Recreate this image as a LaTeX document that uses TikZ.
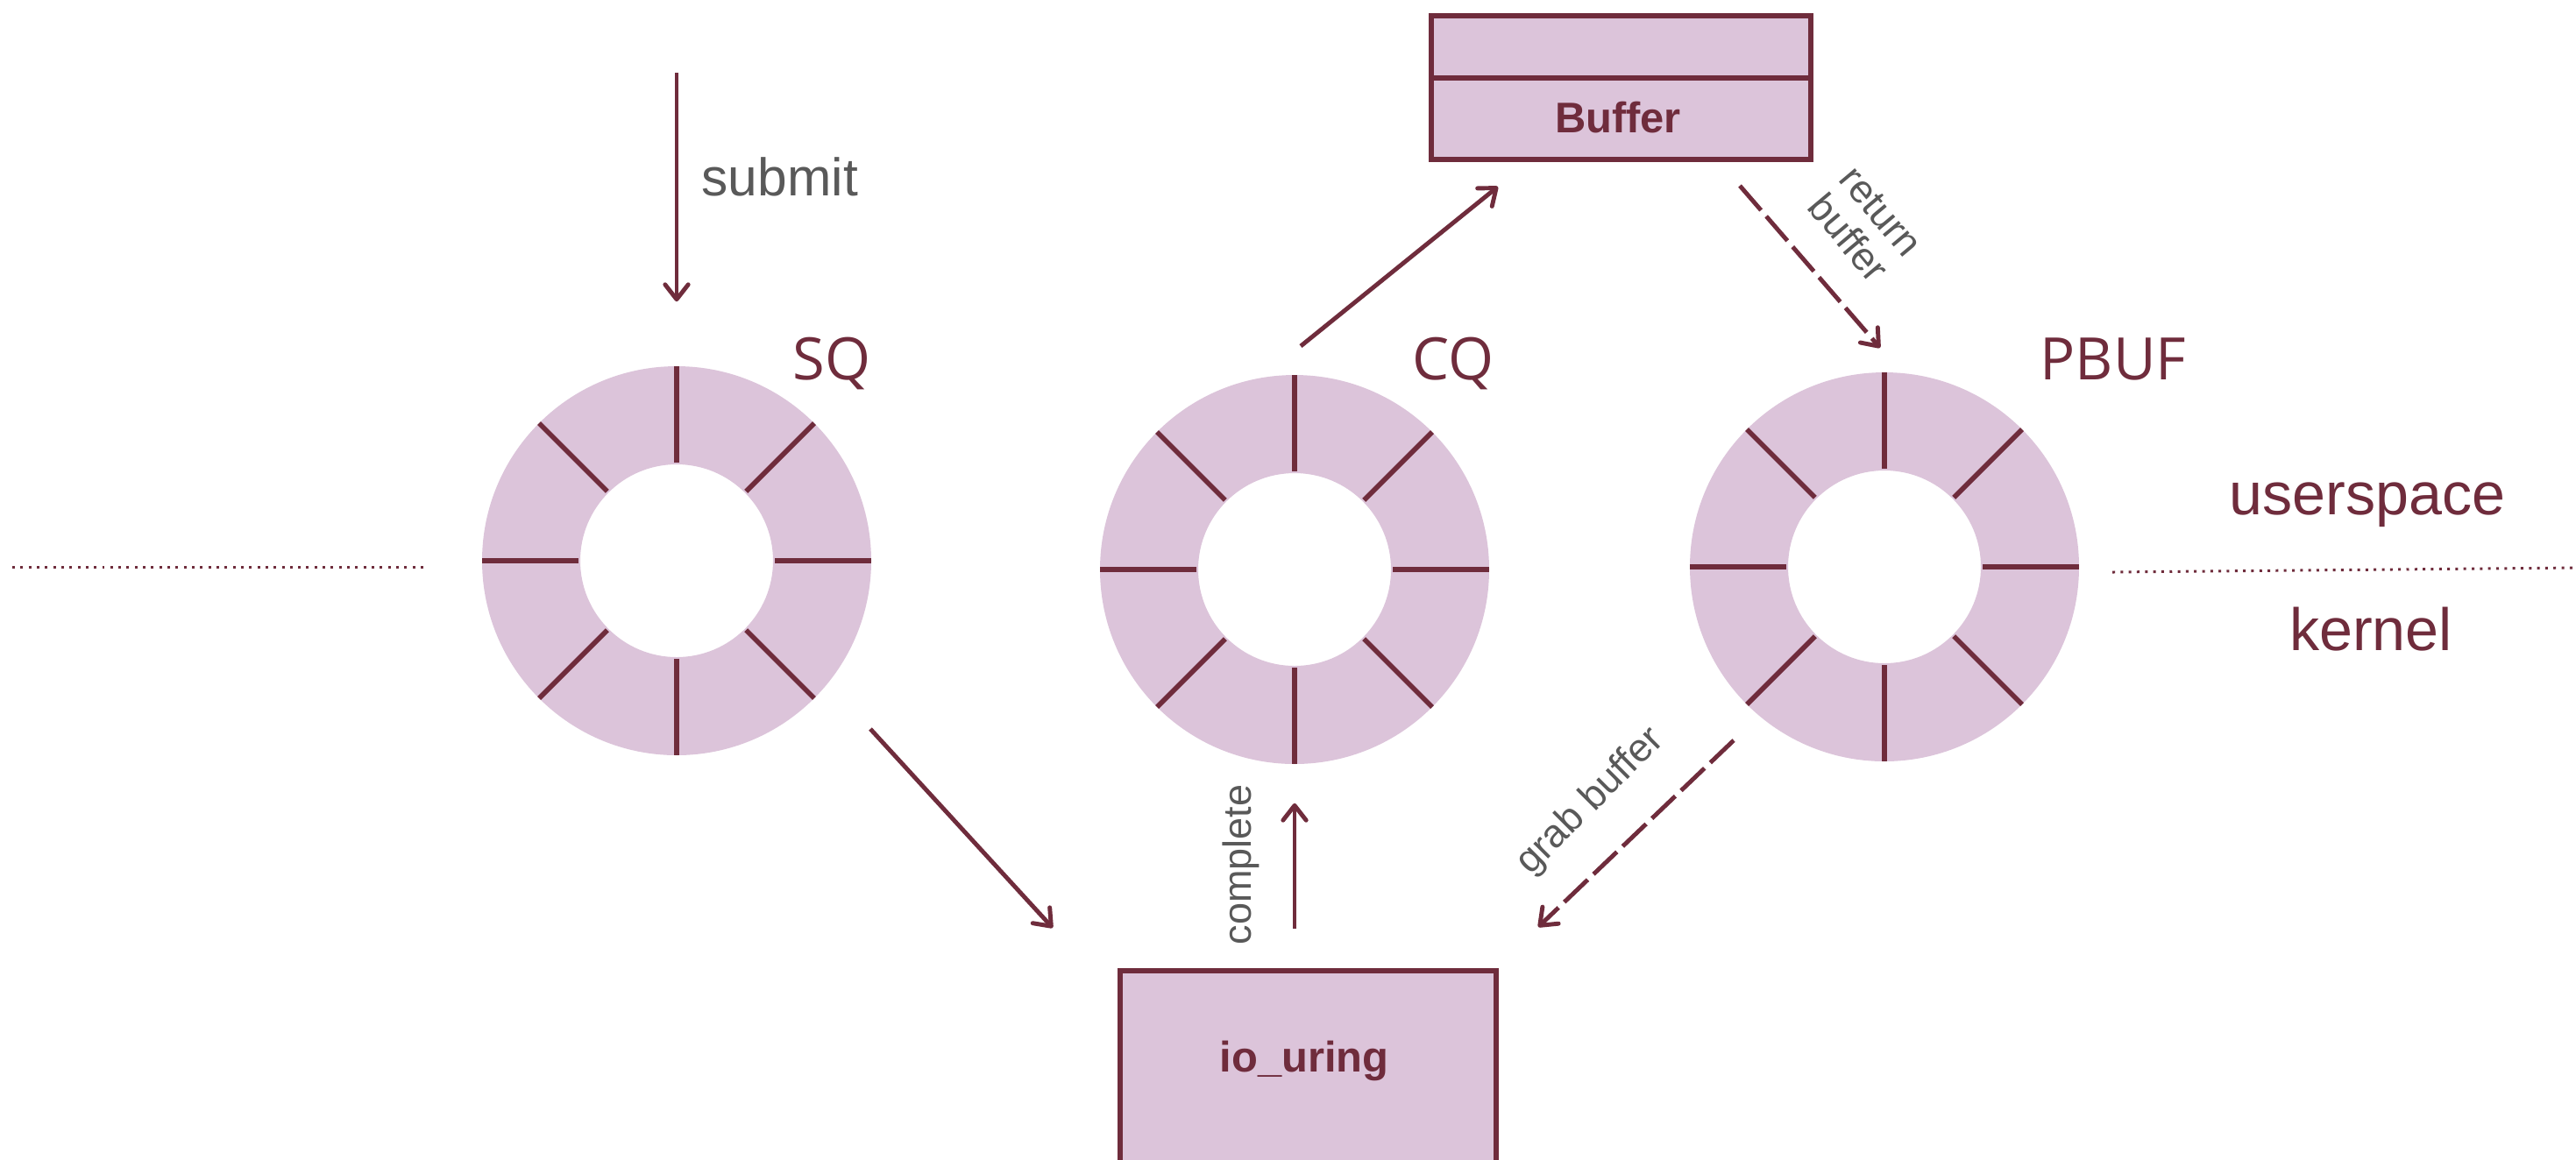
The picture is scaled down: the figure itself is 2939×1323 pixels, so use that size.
\documentclass[tikz,border=0pt]{standalone}
\usepackage{fontspec}
\setmainfont{Liberation Sans}
\newfontfamily\qfont{Open Sans}
\usetikzlibrary{arrows.meta}

\definecolor{maroon}{HTML}{6F2C3C}
\definecolor{mauve}{HTML}{DCC4DA}
\definecolor{labelgray}{HTML}{595959}

% ring buffer: filled annulus with eight slot separators and a named outline node
\newcommand\drawring[3]{%
  \fill[mauve, even odd rule] (#2,#3) circle[radius=222] (#2,#3) circle[radius=110];
  \foreach \a in {0,45,...,315}
    \draw[spoke] (#2,#3) ++(\a:112) -- ++(\a:110);
  \node[circle, minimum size=4.44cm, inner sep=0pt] (#1) at (#2,#3) {};
}

\begin{document}
\begin{tikzpicture}[x=0.01cm, y=-0.01cm,
  arr/.style={draw=maroon, line width=1.4pt, line join=round,
    -{Straight Barb[length=4.8pt,width=7.5pt,round]}},
  dasharr/.style={arr, dash pattern=on 10.5pt off 2.6pt},
  spoke/.style={draw=maroon, line width=1.6pt},
  box/.style={draw=maroon, fill=mauve, line width=1.6pt, rectangle, inner sep=0pt, anchor=north west},
  boxtext/.style={text=maroon, font=\bfseries\fontsize{13.9}{16}\selectfont},
  qlabel/.style={text=maroon, font=\qfont\fontsize{19}{22}\selectfont, anchor=base},
  flow/.style={text=labelgray, font=\fontsize{12.8}{13.6}\selectfont, inner sep=0pt},
  side/.style={text=maroon, font=\fontsize{19.4}{23}\selectfont, anchor=base},
  divider/.style={draw=maroon, line width=0.85pt, dash pattern=on 0.85pt off 1.8pt},
]
\useasboundingbox (0,0) rectangle (2939,1323);

% the three rings
\drawring{sqring}{772}{640}
\drawring{cqring}{1477}{650}
\drawring{pbring}{2150}{647}

\node[qlabel] (sqlab) at (949,433) {SQ};
\node[qlabel] (cqlab) at (1658,433) {CQ};
\node[qlabel] (pblab) at (2411,433) {PBUF};

% provided buffer
\node[box, minimum width=4.33cm, minimum height=1.64cm] (buf) at (1630,15) {};
\draw[maroon, line width=1.6pt] (buf.west |- 0,89) -- (buf.east |- 0,89);
\node[boxtext] (buftext) at (1846,134) {Buffer};

% kernel side
\node[box, minimum width=4.29cm, minimum height=2.5cm] (io) at (1275,1105) {};
\node[boxtext, anchor=base] (iotext) at (1488,1223) {io\_uring};

% userspace / kernel boundary
\coordinate (bl1) at (14,647);
\coordinate (bl2) at (486,647);
\coordinate (br1) at (2410,653);
\coordinate (br2) at (2939,648);
\draw[divider] (bl1) -- (bl2);
\draw[divider] (br1) -- (br2);
\node[side] (user) at (2701,587) {userspace};
\node[side] (kern) at (2705,742) {kernel};

% flow
\coordinate (subtop) at (772,83);
\draw[arr, shorten >=0.73cm] (subtop) -- (sqring.north);
\node[text=labelgray, font=\fontsize{17.2}{20}\selectfont, anchor=base west, inner sep=0pt] (sublab) at (800,223) {submit};

\coordinate (sqout) at (993,832);
\coordinate (ioin) at (1201,1059);
\draw[arr] (sqout) -- (ioin);

\draw[arr, shorten <=0.45cm, shorten >=0.44cm] (cqring.south |- io.north) -- (cqring.south);
\node[flow, rotate=90] (complab) at (1416,987) {complete};

\coordinate (cqout) at (1484,395);
\coordinate (bufin) at (1709,213);
\draw[arr] (cqout) -- (bufin);

\coordinate (bufout) at (1985,212);
\coordinate (pbin) at (2145,397);
\draw[dasharr] (bufout) -- (pbin);
\node[flow, rotate=-50, align=center] (retlab) at (2127,257) {return\\buffer};

\coordinate (pbout) at (1978,845);
\coordinate (iograb) at (1755,1058);
\draw[dasharr] (pbout) -- (iograb);
\node[flow, rotate=45] (grablab) at (1815,915) {grab buffer};
\end{tikzpicture}
\end{document}
